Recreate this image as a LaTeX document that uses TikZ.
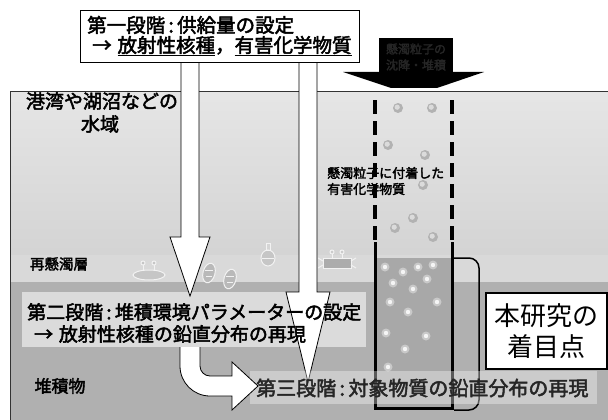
\documentclass[tikz,border=0pt]{standalone}
\usepackage{fontspec}
\newfontfamily\jpb[FakeBold=2.4]{Noto Sans CJK JP}
\newfontfamily\jp{Noto Sans CJK JP}
\begin{document}
\begin{tikzpicture}[x=1pt,y=-1pt,
  blockarrow/.style={fill=white,draw=black,line width=0.8pt},
  lbl/.style={inner sep=0pt,font=\jpb\fontsize{#1}{#1}\selectfont},
  wallline/.style={line width=3pt},
  coreside/.style={line width=3.5pt,dash pattern=on 14pt off 7pt},
  critter/.style={draw=gray!10,line width=1pt}]
\useasboundingbox (0,0) rectangle (608,420);
\fill[white] (0,0) rectangle (608,420);

% water body, resuspension layer and sediment
\shade[top color=gray!20,bottom color=gray!34] (10,92) rectangle (608,255);
\fill[gray!30] (10,255) rectangle (608,282);
\fill[gray!62] (10,282) rectangle (608,420);
\draw[gray!40!black,line width=1pt] (10,420) -- (10,92) -- (608,92);

% benthic organisms
\draw[critter,fill=gray!45] (149,275) ellipse[x radius=16pt,y radius=5pt];
\draw[critter] (143,270) -- (143,265) (154,270) -- (154,265);
\draw[critter,fill=gray!45] (143,263) circle[radius=2pt] (154,263) circle[radius=2pt];
\draw[critter,fill=gray!55,rotate around={-15:(209,273)}] (209,273) ellipse[x radius=6pt,y radius=10pt];
\draw[critter,fill=gray!55,rotate around={-15:(230,279)}] (230,279) ellipse[x radius=6pt,y radius=10pt];
\draw[critter] (205,270) -- (213,270) (206,276) -- (212,276) (226,276) -- (234,276) (227,282) -- (233,282);
\draw[critter,fill=gray!45] (268,258) ellipse[x radius=7pt,y radius=8pt];
\draw[critter] (266,243) rectangle (270,250) (268,250) -- (268,251);
\draw[critter] (262,258) -- (274,258);
\draw[critter,fill=gray!65] (323,258) rectangle (351,268);
\draw[critter] (332,258) -- (332,253) (342,258) -- (342,253);
\draw[critter,fill=gray!40] (332,252) circle[radius=2pt] (342,252) circle[radius=2pt];
\draw[critter] (323,261) -- (318,258) (323,265) -- (318,268) (351,261) -- (356,258) (351,265) -- (356,268);

% water column above the core
\draw[coreside] (375,100) -- (375,242);
\draw[coreside] (452,100) -- (452,242);
\foreach \px/\py in {398/108,432/108,388/145,425/155,423/185,413/218,395/228,433/237}{
  \fill[gray!60] (\px,\py) circle[radius=5pt];
  \fill[gray!28] (\px-0.8,\py-0.8) circle[radius=2.6pt];
}
\node[lbl=13,anchor=west] (susp1) at (327,173) {懸濁粒子に付着した};
\node[lbl=13,anchor=west] (susp2) at (327,189) {有害化学物質};

% sediment core
\fill[gray!68] (375,258) rectangle (452,408);
\foreach \px/\py in {385/267,403/272,418/267,433/265,427/279,393/283,413/289,390/302,437/302,408/312,386/333,426/336,405/349,388/367}{
  \fill[gray!42] (\px,\py) circle[radius=4.5pt];
  \fill[gray!8] (\px,\py) circle[radius=2.2pt];
}
\draw[wallline] (375,242) -- (375,408) -- (452,408) -- (452,242);
\draw[line width=1.5pt] (452,258) -- (469,258) .. controls (474.5,258) and (479,262.5) .. (479,268)
  -- (479,400) .. controls (479,405.5) and (474.5,410) .. (469,410) -- (454,410);

% second stage panel
\fill[white,opacity=.55] (22,292) rectangle (366,347);

% block arrows
\draw[blockarrow] (181,62) -- (181,237) -- (170,237) -- (190,296) -- (210,237) -- (199,237) -- (199,62) -- cycle;
\draw[blockarrow] (299,62) -- (299,292) -- (286,292) -- (308,382) -- (330,292) -- (317,292) -- (317,62) -- cycle;

% third stage panel
\fill[white,opacity=.35] (250,371) rectangle (597,404);
\draw[blockarrow] (180,347) -- (180,366) .. controls (180,382.6) and (193.4,396) .. (210,396)
  -- (232,396) -- (232,410) -- (258,386) -- (232,362) -- (232,376) -- (210,376)
  .. controls (204.5,376) and (200,371.5) .. (200,366) -- (200,347);

% labels in the scene
\node[lbl=19] (water1) at (102,101) {港湾や湖沼などの};
\node[lbl=19] (water2) at (100,124) {水域};
\node[lbl=14.5] (resus) at (59,264) {再懸濁層};
\node[lbl=17] (sedi) at (60,386) {堆積物};
\node[lbl=19,anchor=west] (st2a) at (27,312) {第二段階\,:\,堆積環境パラメーターの設定};
\node[lbl=19,anchor=west] (st2b) at (34,334) {→\hspace{0.3em}放射性核種の鉛直分布の再現};
\node[lbl=20,anchor=west,text=black!85] (st3) at (256,388) {第三段階\,:\,対象物質の鉛直分布の再現};

% first stage panel
\node[draw,fill=white,line width=1.1pt,minimum width=279pt,minimum height=52pt,anchor=north west,inner sep=0pt] (st1) at (80,10) {};
\node[lbl=19.5,anchor=west] (st1a) at (87,25) {第一段階\,:\,供給量の設定};
\node[lbl=19.5,anchor=west] (st1b) at (92,46) {→\hspace{0.3em}\underline{放射性核種}，\underline{有害化学物質}};

% settling input arrow
\fill[black] (379,38) rectangle (453,74);
\fill[black] (343,72) -- (484,72) -- (437,88) -- (391,88) -- cycle;
\node[lbl=12,text=gray!30!black] (in1) at (416,49) {懸濁粒子の};
\node[lbl=12,text=gray!30!black] (in2) at (416,65) {沈降・堆積};

% focus box
\node[draw,fill=white,line width=2pt,minimum width=121pt,minimum height=76pt,anchor=north west,inner sep=0pt] (focus) at (485,292) {};
\node[font=\jp\fontsize{26}{31}\selectfont,align=center,inner sep=0pt] (focustext) at (focus.center) {本研究の\\着目点};
\end{tikzpicture}
\end{document}
